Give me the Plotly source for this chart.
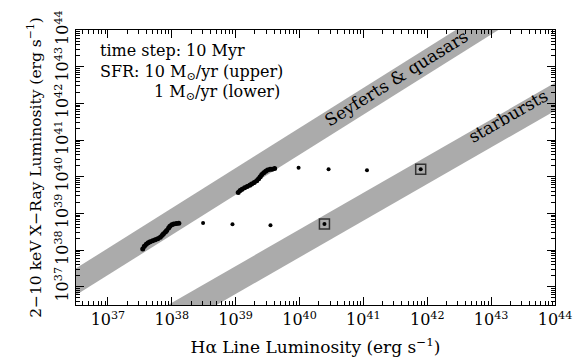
import plotly.graph_objects as go

# ---- data (log10 erg/s) ----
lower_curve_logx = [37.545, 37.57, 37.60, 37.63, 37.66, 37.70, 37.74, 37.78, 37.82, 37.85,
                    37.87, 37.90, 37.92, 37.95, 37.97, 38.00, 38.03, 38.07, 38.11]
lower_curve_logy = [38.03, 38.10, 38.16, 38.20, 38.225, 38.25, 38.28, 38.31, 38.345, 38.40,
                    38.44, 38.49, 38.53, 38.60, 38.65, 38.69, 38.71, 38.72, 38.73]
upper_curve_logx = [39.04, 39.07, 39.10, 39.14, 39.18, 39.22, 39.25, 39.29, 39.33, 39.36,
                    39.385, 39.41, 39.44, 39.47, 39.50, 39.54, 39.57, 39.61]
upper_curve_logy = [39.57, 39.62, 39.66, 39.70, 39.735, 39.765, 39.80, 39.84, 39.89, 39.94,
                    40.00, 40.06, 40.11, 40.15, 40.18, 40.20, 40.205, 40.22]
dots_logx = [38.49, 38.95, 39.545, 39.985, 40.455, 41.056]
dots_logy = [38.735, 38.70, 38.672, 40.245, 40.204, 40.177]
boxed_logx = [40.39, 41.897]
boxed_logy = [38.707, 40.204]

# band edges: (log x, log y) at the axis limits
band_x = [36.5, 44.0]
seyfert_upper = [37.50, 45.70]
seyfert_lower = [36.77, 44.97]
starburst_upper = [35.06, 42.56]
starburst_lower = [34.30, 41.80]

x_ticks = [37, 38, 39, 40, 41, 42, 43, 44]
y_ticks = [37, 38, 39, 40, 41, 42, 43, 44]
decades = [36, 37, 38, 39, 40, 41, 42, 43]
mantissas = [2, 3, 4, 5, 6, 7, 8, 9]

p = lambda a: [10.0 ** v for v in a]
minor_vals = [m * 10.0 ** d for d in decades for m in mantissas]

FONT = "DejaVu Serif"
BAND = "#ababab"

fig = go.Figure()

for up, lo in [(seyfert_upper, seyfert_lower), (starburst_upper, starburst_lower)]:
    fig.add_trace(go.Scatter(
        x=p(band_x + band_x[::-1]), y=p(up + lo[::-1]),
        fill="toself", fillcolor=BAND, line=dict(width=0), mode="lines",
        hoverinfo="skip", showlegend=False))

for xs, ys in [(lower_curve_logx, lower_curve_logy), (upper_curve_logx, upper_curve_logy)]:
    fig.add_trace(go.Scatter(x=p(xs), y=p(ys), mode="markers+lines",
                             line=dict(color="black", width=3.5),
                             marker=dict(color="black", size=5), showlegend=False))

fig.add_trace(go.Scatter(x=p(dots_logx + boxed_logx), y=p(dots_logy + boxed_logy), mode="markers",
                         marker=dict(color="black", size=4), showlegend=False))
fig.add_trace(go.Scatter(x=p(boxed_logx), y=p(boxed_logy), mode="markers",
                         marker=dict(symbol="square-open", color="#333333", size=10,
                                     line=dict(width=1.5)), showlegend=False))

tickfont = dict(family=FONT, size=16, color="black")
common = dict(type="log", showgrid=False, zeroline=False, showline=True, linecolor="black",
              linewidth=1.3, mirror="allticks", ticks="inside", ticklen=8, tickwidth=1.1,
              tickcolor="black", tickfont=tickfont, automargin=False,
              minor=dict(ticks="inside", ticklen=4, tickwidth=1, tickcolor="black",
                         tickmode="array", tickvals=minor_vals, showgrid=False))

fig.update_xaxes(range=[36.5, 44], tickmode="array", tickvals=p(x_ticks),
                 ticktext=[f"10<sup>{t}</sup>" for t in x_ticks],
                 title=dict(text="Hα Line Luminosity (erg s<sup>−1</sup>)",
                            font=dict(family=FONT, size=17, color="black"), standoff=12),
                 **common)
fig.update_yaxes(range=[36.5, 44], tickmode="array", tickvals=p(y_ticks),
                 ticktext=[f"10<sup>{t}</sup>" for t in y_ticks], tickangle=-90,
                 title=dict(text="2−10 keV X−Ray Luminosity (erg s<sup>−1</sup>)",
                            font=dict(family=FONT, size=15.5, color="black"), standoff=6),
                 **common)

ann_font = dict(family=FONT, size=16, color="black")
fig.add_annotation(xref="paper", yref="paper", x=0.046, y=0.924, xanchor="left", yanchor="middle",
                   text="time step: 10 Myr", showarrow=False, font=ann_font)
fig.add_annotation(xref="paper", yref="paper", x=0.046, y=0.847, xanchor="left", yanchor="middle",
                   text="SFR: 10 M<sub>⊙</sub>/yr (upper)", showarrow=False, font=ann_font)
fig.add_annotation(xref="paper", yref="paper", x=0.159, y=0.771, xanchor="left", yanchor="middle",
                   text="1 M<sub>⊙</sub>/yr (lower)", showarrow=False, font=ann_font)
fig.add_annotation(x=41.52, y=42.68, text="Seyferts &amp; quasars", showarrow=False,
                   textangle=-32, font=dict(family=FONT, size=17, color="black"))
fig.add_annotation(x=43.27, y=41.66, text="starbursts", showarrow=False,
                   textangle=-30, font=dict(family=FONT, size=17, color="black"))

fig.update_layout(width=573, height=363, margin=dict(l=76, r=18, t=30, b=58),
                  plot_bgcolor="white", paper_bgcolor="white", showlegend=False)

fig.write_html("out.html", config={"displayModeBar": False},
               post_script="document.body.style.margin='0';document.body.style.padding='0';"
                           "document.body.style.overflow='hidden';")
